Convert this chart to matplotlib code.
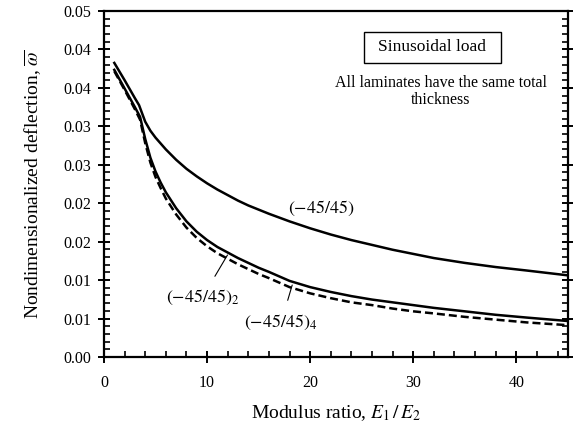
import numpy as np
import matplotlib
matplotlib.use('Agg')
import matplotlib.pyplot as plt
from matplotlib.patches import Rectangle
from matplotlib.ticker import MultipleLocator, AutoMinorLocator, FixedLocator, FormatStrFormatter

plt.rcParams['font.family'] = ['Liberation Serif', 'DejaVu Serif']
plt.rcParams['mathtext.fontset'] = 'stix'

x1 = [1, 2, 3, 3.4, 3.7, 4, 4.5, 5, 6, 7, 8, 9, 10, 11, 12, 13, 14, 15, 16, 18, 20, 22,
      24, 26, 28, 30, 32, 35, 38, 41, 45]
w1 = [0.0425, 0.0400, 0.0374, 0.0364, 0.0352, 0.0340, 0.0327, 0.0317, 0.0300, 0.0285,
      0.0272, 0.0261, 0.0251, 0.0242, 0.0234, 0.0226, 0.0219, 0.0213, 0.0207, 0.0196,
      0.0186, 0.0177, 0.0169, 0.0162, 0.0155, 0.0149, 0.0143, 0.0136, 0.0130, 0.0125,
      0.0118]

x2 = [1, 2, 3, 3.5, 4, 4.5, 5, 5.5, 6, 7, 8, 9, 10, 11, 12, 13, 14, 15, 16, 18, 20, 22,
      24, 26, 28, 30, 32, 35, 38, 41, 45]
w2 = [0.0415, 0.0388, 0.0361, 0.0347, 0.0315, 0.0288, 0.0268, 0.0252, 0.0238, 0.0215,
      0.0196, 0.0181, 0.0169, 0.0159, 0.0151, 0.0143, 0.0136, 0.0129, 0.0123, 0.0110,
      0.0101, 0.0094, 0.0088, 0.0083, 0.0079, 0.0075, 0.0071, 0.0066, 0.0061, 0.0057,
      0.0052]

x4 = [1, 2, 3, 3.5, 4, 4.5, 5, 5.5, 6, 7, 8, 9, 10, 11, 12, 13, 14, 15, 16, 18, 20, 22,
      24, 26, 28, 30, 32, 35, 38, 41, 45]
w4 = [0.0413, 0.0386, 0.0358, 0.0343, 0.0309, 0.0281, 0.0260, 0.0244, 0.0229, 0.0206,
      0.0187, 0.0172, 0.0160, 0.0150, 0.0142, 0.0134, 0.0127, 0.0120, 0.0114, 0.0101,
      0.0092, 0.0085, 0.0079, 0.0075, 0.0070, 0.0066, 0.0063, 0.0058, 0.0054, 0.0050,
      0.0046]

y_ticks = np.linspace(0, 0.05, 10)

fig = plt.figure(figsize=(5.73, 4.32), dpi=100)
ax = fig.add_axes([0.1815, 0.1736, 0.8095, 0.8009])

ax.plot(x1, w1, color='black', lw=1.8)
ax.plot(x2, w2, color='black', lw=1.8)
ax.plot(x4, w4, color='black', lw=1.8, ls=(0, (3.2, 1.6)))

ax.set_xlim(0, 45)
ax.set_ylim(0, 0.05)
ax.xaxis.set_major_locator(MultipleLocator(10))
ax.xaxis.set_minor_locator(AutoMinorLocator(5))
ax.yaxis.set_major_locator(FixedLocator(y_ticks))
ax.yaxis.set_minor_locator(AutoMinorLocator(5))
ax.yaxis.set_major_formatter(FormatStrFormatter('%.2f'))

for s in ax.spines.values():
    s.set_linewidth(1.6)

ax.tick_params(which='major', direction='inout', length=8, width=1.4, labelsize=11.5,
               right=True, top=False)
ax.tick_params(which='minor', direction='in', length=4, width=1.2, right=True, top=False)
ax.tick_params(axis='x', which='major', pad=9)
ax.tick_params(axis='y', which='major', pad=5)

ax.set_xlabel(r'Modulus ratio, $E_1\,/\,E_2$', fontsize=14, labelpad=9)
ax.set_ylabel(r'Nondimensionalized deflection, $\overline{\omega}$', fontsize=14, labelpad=15)

ax.text(21.1, 0.0215, r'$(-45/45)$', fontsize=13, ha='center', va='center')
ax.annotate(r'$(-45/45)_2$', xy=(11.98, 0.01474), xytext=(9.57, 0.00867),
            fontsize=13, ha='center', va='center',
            arrowprops=dict(arrowstyle='-', color='black', lw=0.8, shrinkA=7, shrinkB=0))
ax.annotate(r'$(-45/45)_4$', xy=(18.26, 0.0104), xytext=(17.2, 0.00506),
            fontsize=13, ha='center', va='center',
            arrowprops=dict(arrowstyle='-', color='black', lw=0.8, shrinkA=7, shrinkB=0))

ax.add_patch(Rectangle((25.2, 0.0425), 13.3, 0.0045, fill=False, ec='black', lw=1.0))
ax.text(31.85, 0.04475, 'Sinusoidal load', fontsize=12.5, ha='center', va='center')
ax.text(32.7, 0.0384, 'All laminates have the same total\nthickness', fontsize=11.5,
        ha='center', va='center', multialignment='center', linespacing=1.1)

fig.savefig('out.png', dpi=100)
